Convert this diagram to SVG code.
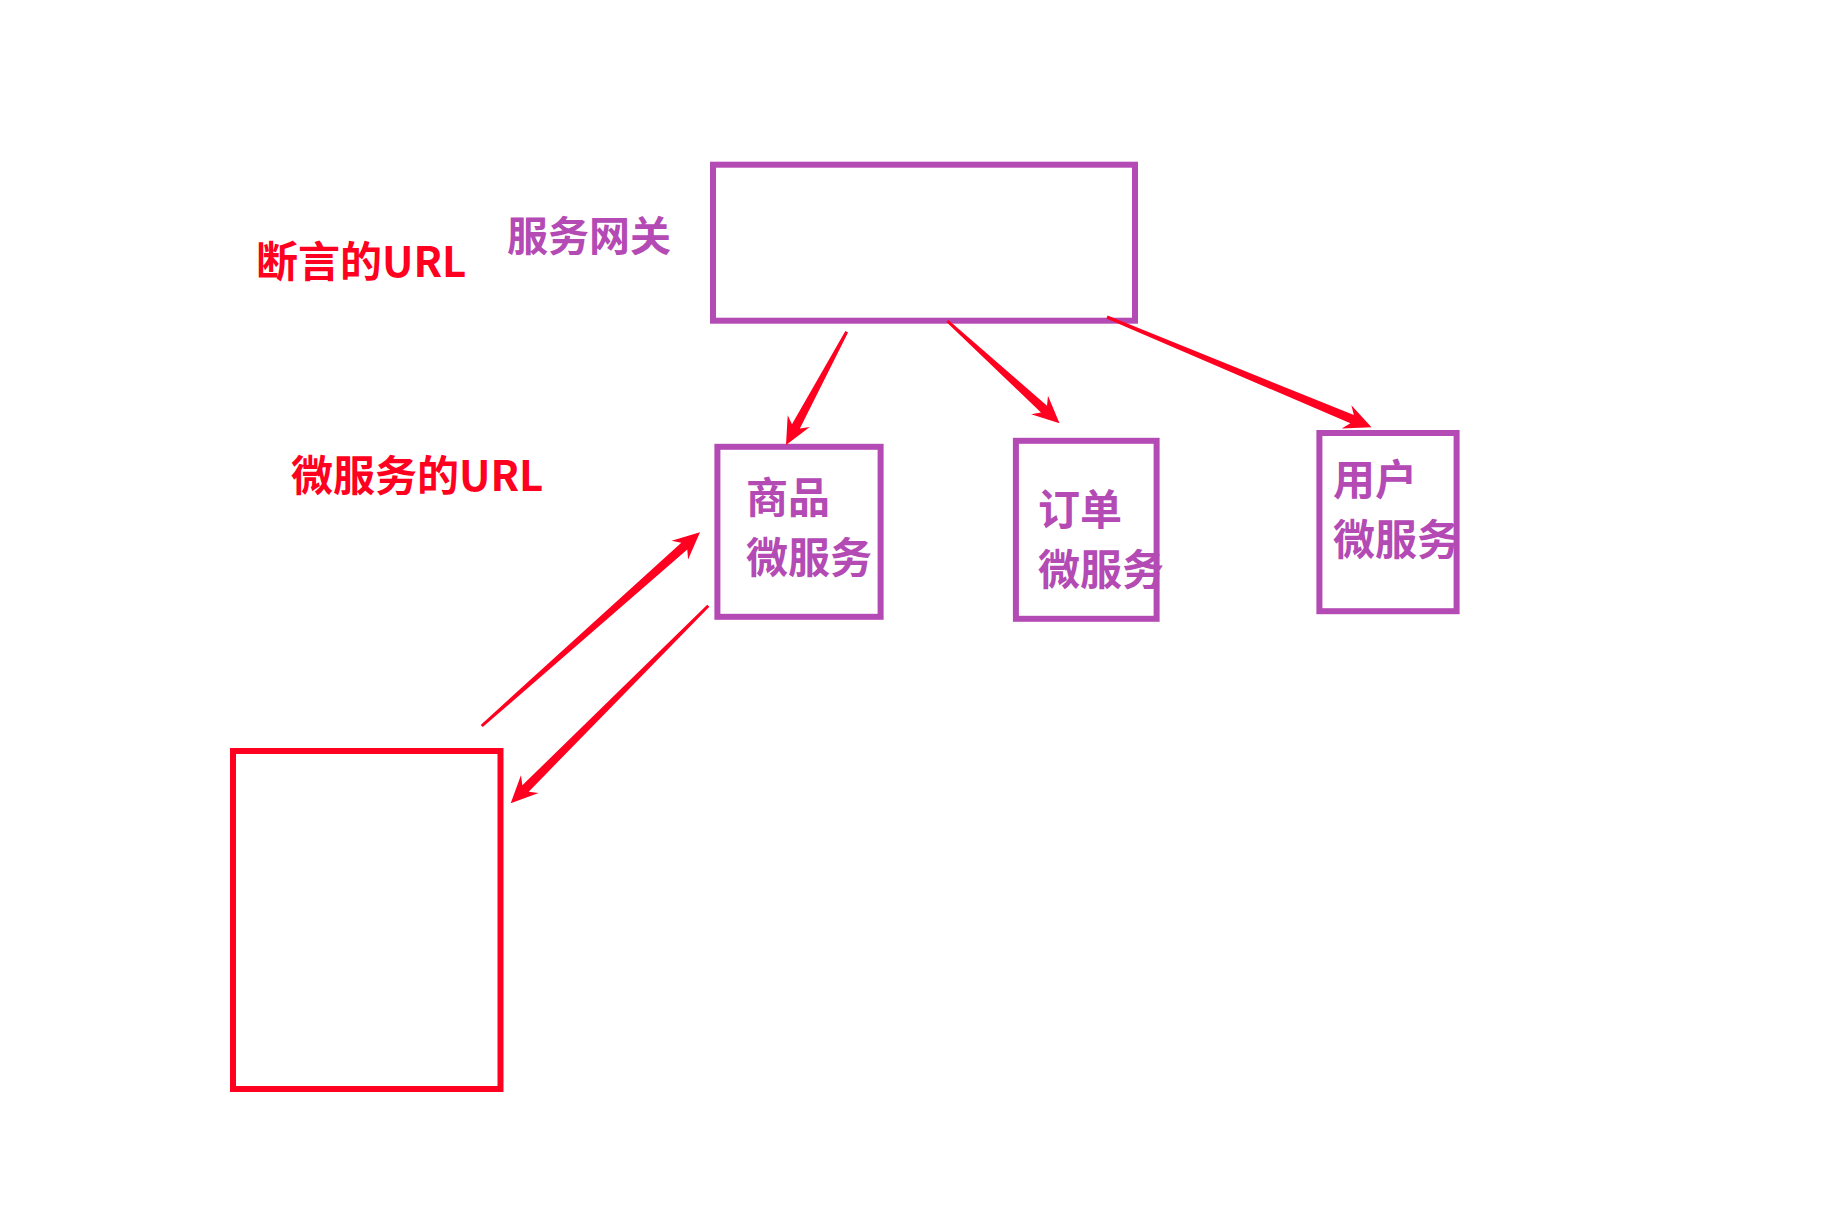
<svg xmlns="http://www.w3.org/2000/svg" width="1840" height="1224" viewBox="0 0 1840 1224">
<style>
.box{fill:none;stroke:#B44AB4;stroke-width:6}
.rbox{fill:none;stroke:#FF0020;stroke-width:6}
.pt{font-family:"Noto Sans CJK SC","Noto Sans",sans-serif;font-size:42px;font-weight:bold;fill:#B44AB4}
.rt{font-family:"Noto Sans CJK SC","Noto Sans",sans-serif;font-size:42px;font-weight:bold;fill:#FF0020}
.arr{fill:#FF0020;stroke:none}
</style>
<rect width="1840" height="1224" fill="#FFFFFF"/>
<g id="label-assert"><text class="rt" x="256" y="277">断言的URL</text></g>
<g id="label-ms"><text class="rt" x="291" y="491">微服务的URL</text></g>
<g id="gateway">
<text class="pt" x="507" y="251" style="font-size:41px">服务网关</text>
<rect class="box" x="713" y="164.7" width="422" height="156"/>
</g>
<g id="goods">
<rect class="box" x="717.4" y="446.8" width="163.2" height="170"/>
<text class="pt" x="746" y="513">商品</text>
<text class="pt" x="746" y="573">微服务</text>
</g>
<g id="order">
<rect class="box" x="1015.9" y="440.8" width="140.7" height="178"/>
<text class="pt" x="1038" y="525">订单</text>
<text class="pt" x="1038" y="585">微服务</text>
</g>
<g id="user">
<rect class="box" x="1319.4" y="433" width="137.2" height="178.2"/>
<text class="pt" x="1333" y="495">用户</text>
<text class="pt" x="1333" y="555">微服务</text>
</g>
<g id="client">
<rect class="rbox" x="233" y="751" width="267.5" height="338"/>
</g>
<g id="connectors">
<polygon class="arr" points="845.38,330.99 791.95,424.35 787.7,415.3 786,445 809.8,427.1 799.89,428.61 848.02,332.41"/>
<polygon class="arr" points="946.39,322.11 1040.96,412.47 1031.14,414.33 1059.5,423.3 1047.98,395.87 1047.02,405.83 948.41,319.89"/>
<polygon class="arr" points="1106.42,318.38 1350.39,423.37 1341.77,428.45 1371.5,427.3 1351.39,405.37 1353.85,415.07 1107.58,315.62"/>
<polygon class="arr" points="482.7,727.12 687.28,549.61 688.1,559.57 700,532.3 671.5,540.87 681.3,542.87 480.7,724.88"/>
<polygon class="arr" points="707.24,604.64 522.37,785.27 520.95,775.37 510.7,803.3 538.63,793.05 528.73,791.63 709.36,606.76"/>
</g>
</svg>
